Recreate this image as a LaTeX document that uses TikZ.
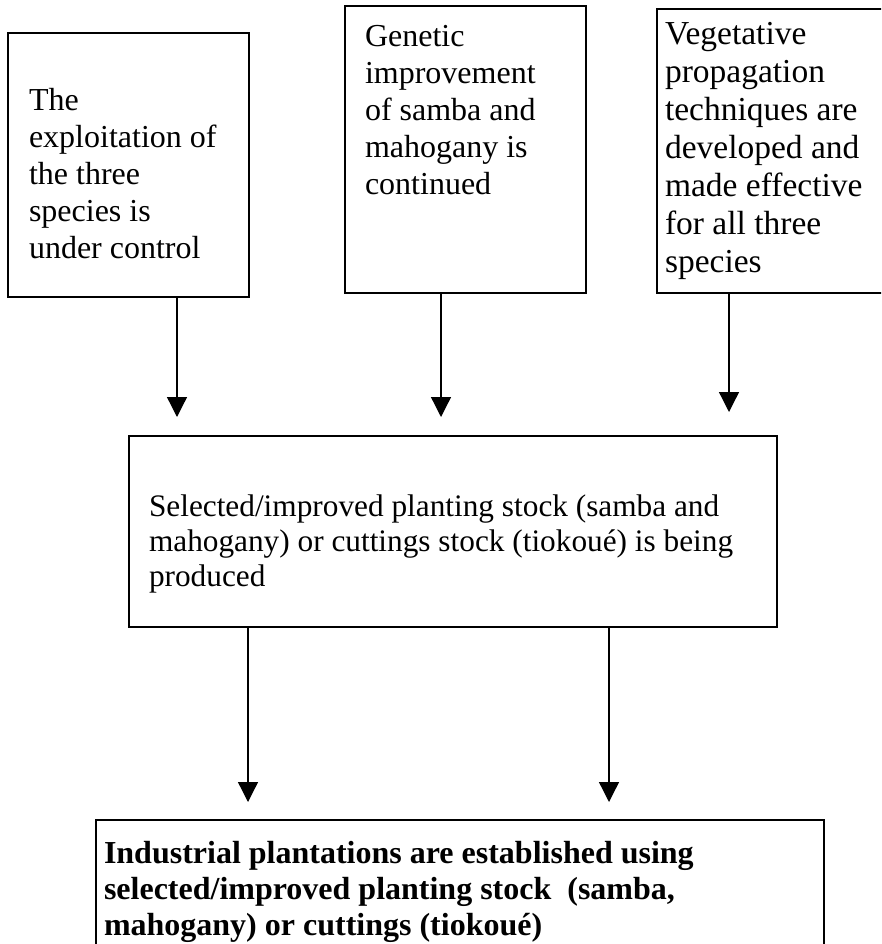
\documentclass[tikz,border=0pt]{standalone}
\usepackage{fontspec}
\setmainfont{Liberation Serif}
\usetikzlibrary{arrows.meta}
\begin{document}
\begin{tikzpicture}[x=1pt,y=-1pt,
  box/.style={draw, line width=1.6pt, anchor=north west, inner sep=0pt, outer sep=0pt},
  txt/.style={anchor=base west, inner sep=0pt, outer sep=0pt, font=\fontsize{32}{37}\selectfont},
  arr/.style={line width=1.3pt, -{Triangle[width=20pt,length=20pt]}}]
\useasboundingbox (0,0) rectangle (881,944);
\clip (0,0) rectangle (881,944);
% boxes
\node[box, minimum width=241pt, minimum height=264pt] (b1) at (8,33) {};
\node[box, minimum width=241pt, minimum height=287pt] (b2) at (345,6) {};
\node[box, minimum width=260pt, minimum height=284pt] (b3) at (657,9) {};
\node[box, minimum width=648pt, minimum height=191pt] (bm) at (129,436) {};
\node[box, minimum width=728pt, minimum height=200pt] (bb) at (96,820) {};
% texts
\node[txt] (t1) at (29,111) {\parbox[t]{215pt}{\raggedright The\\exploitation of\\the three\\species is\\under control}};
\node[txt] (t2) at (365,47) {\parbox[t]{215pt}{\raggedright Genetic\\improvement\\of samba and\\mahogany is\\continued}};
\node[txt, font=\fontsize{33.5}{38}\selectfont] (t3) at (665,45) {\parbox[t]{230pt}{\raggedright Vegetative\\propagation\\techniques are\\developed and\\made effective\\for all three\\species}};
\node[txt, font=\fontsize{31.3}{35}\selectfont] (tm) at (149,516) {\parbox[t]{620pt}{\raggedright Selected/improved planting stock (samba and\\mahogany) or cuttings stock (tiokoué) is being\\produced}};
\node[txt, font=\fontsize{32}{36}\selectfont\bfseries] (tb) at (104,863) {\parbox[t]{715pt}{\raggedright Industrial plantations are established using\\selected/improved planting stock\ \ (samba,\\mahogany) or cuttings (tiokoué)}};
% arrow ends
\coordinate (e1) at (177,417);
\coordinate (e2) at (441,417);
\coordinate (e3) at (729,412);
\coordinate (e4) at (248,802);
\coordinate (e5) at (609,802);
\draw[arr] (e1 |- b1.south) -- (e1);
\draw[arr] (e2 |- b2.south) -- (e2);
\draw[arr] (e3 |- b3.south) -- (e3);
\draw[arr] (e4 |- bm.south) -- (e4);
\draw[arr] (e5 |- bm.south) -- (e5);
\end{tikzpicture}
\end{document}
